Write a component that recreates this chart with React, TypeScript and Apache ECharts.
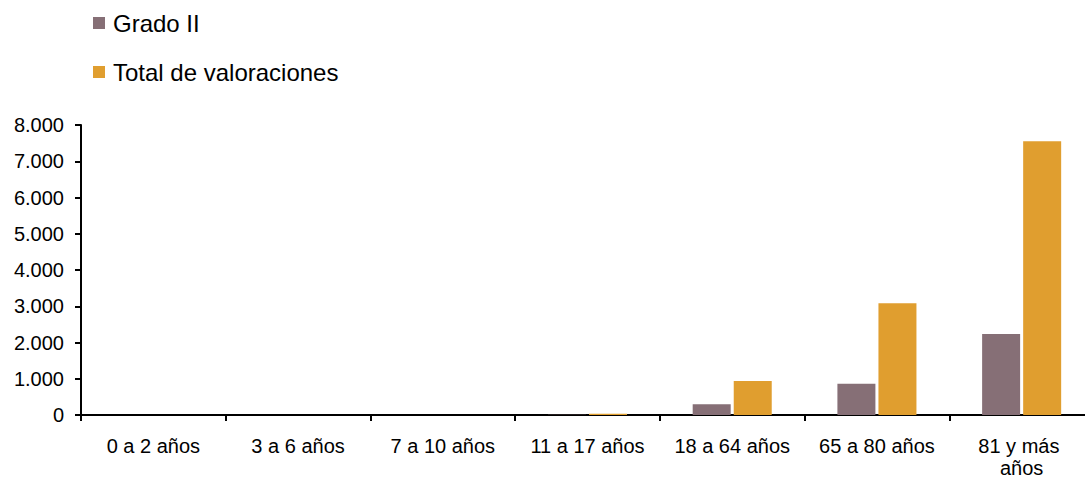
import React, { useEffect, useRef } from "react";
import * as echarts from "echarts";

const categories = [
  "0 a 2 años",
  "3 a 6 años",
  "7 a 10 años",
  "11 a 17 años",
  "18 a 64 años",
  "65 a 80 años",
  "81 y más años",
];
const gradoII = [0, 0, 0, 6, 300, 865, 2235];
const totalValoraciones = [0, 1, 3, 35, 940, 3080, 7550];
const seriesNames = ["Grado II", "Total de valoraciones"];
const colors = ["#866F76", "#E09E2F"];

const fmt = (v: number) => String(v).replace(/\B(?=(\d{3})+(?!\d))/g, ".");

export default function App() {
  const ref = useRef<HTMLDivElement>(null);
  useEffect(() => {
    if (!ref.current) return;
    const chart = echarts.init(ref.current, null, { renderer: "svg" });
    const font = "'Liberation Sans', Arial, sans-serif";
    chart.setOption({
      animation: false,
      textStyle: { fontFamily: font },
      legend: {
        orient: "vertical",
        left: 93,
        top: 11,
        padding: 0,
        itemWidth: 12,
        itemHeight: 12,
        itemGap: 25,
        icon: "rect",
        data: seriesNames,
        textStyle: {
          fontSize: 24,
          color: "#000",
          fontFamily: font,
          lineHeight: 24,
          padding: [0, 0, 0, 3],
        },
      },
      grid: {
        left: 81,
        right: -9,
        top: 125,
        bottom: 66,
        containLabel: false,
        outerBoundsMode: "none",
      },
      xAxis: {
        type: "category",
        data: categories,
        axisLine: { lineStyle: { color: "#000", width: 2 } },
        axisTick: { show: true, length: 6, lineStyle: { color: "#000", width: 2 } },
        axisLabel: {
          color: "#000",
          fontSize: 20,
          fontFamily: font,
          margin: 20,
          width: 125,
          overflow: "break",
          lineHeight: 22,
          interval: 0,
        },
      },
      yAxis: {
        type: "value",
        min: 0,
        max: 8000,
        interval: 1000,
        splitLine: { show: false },
        axisLine: { show: true, lineStyle: { color: "#000", width: 2 } },
        axisTick: { show: true, length: 6, lineStyle: { color: "#000", width: 2 } },
        axisLabel: {
          color: "#000",
          fontSize: 20,
          fontFamily: font,
          margin: 17,
          formatter: (v: number) => fmt(v),
        },
      },
      series: [
        {
          name: seriesNames[0],
          type: "bar",
          data: gradoII,
          barWidth: 38,
          barGap: "8%",
          itemStyle: { color: colors[0] },
        },
        {
          name: seriesNames[1],
          type: "bar",
          data: totalValoraciones,
          barWidth: 38,
          barGap: "8%",
          itemStyle: { color: colors[1] },
        },
      ],
    });
    return () => chart.dispose();
  }, []);
  return (
    <div
      ref={ref}
      style={{ position: "fixed", left: 0, top: 0, width: 1085, height: 481, background: "#fff" }}
    />
  );
}
